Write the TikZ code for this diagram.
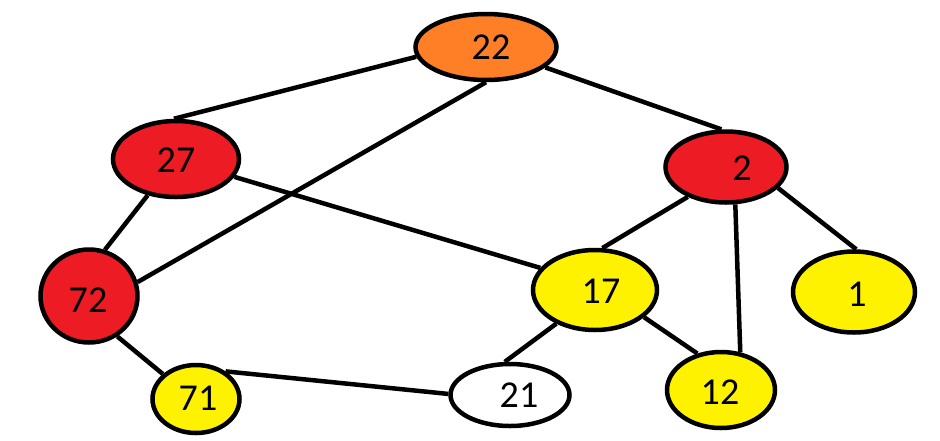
\documentclass[tikz,border=0pt]{standalone}
\usepackage{fontspec}
\setmainfont{Carlito}
\usetikzlibrary{shapes.geometric}
\definecolor{porange}{HTML}{FF7F27}
\definecolor{pred}{HTML}{ED1C24}
\definecolor{pyellow}{HTML}{FFF200}
\tikzset{
  vert/.style={ellipse, draw=black, line width=4.5pt, inner sep=0pt},
  lbl/.style={font=\fontsize{38}{38}\selectfont, inner sep=0pt},
  edge/.style={line width=4.5pt, draw=black}
}
\begin{document}
\begin{tikzpicture}[x=1pt,y=-1pt]
\useasboundingbox (0,0) rectangle (940,440);
\node[vert, fill=porange, minimum width=141pt, minimum height=66pt] (n22) at (486,47) {};
\node[vert, fill=pred, minimum width=126pt, minimum height=76pt] (n27) at (176,159) {};
\node[vert, fill=pred, minimum width=121pt, minimum height=71pt] (n2) at (726,167) {};
\node[vert, fill=pred, minimum width=97pt, minimum height=93pt] (n72) at (89,296) {};
\node[vert, fill=pyellow, minimum width=124pt, minimum height=80pt] (n17) at (595,290) {};
\node[vert, fill=pyellow, minimum width=122pt, minimum height=81pt] (n1) at (854,292) {};
\node[vert, fill=pyellow, minimum width=87pt, minimum height=68pt] (n71) at (196,399) {};
\node[vert, fill=white, minimum width=119pt, minimum height=62pt] (n21) at (510,395) {};
\node[vert, fill=pyellow, minimum width=108pt, minimum height=76pt] (n12) at (721,390) {};

\node[lbl] (t22) at (491,47) {22};
\node[lbl] (t27) at (176,160) {27};
\node[lbl] (t2) at (742,168) {2};
\node[lbl] (t72) at (88,300) {72};
\node[lbl] (t17) at (601,291) {17};
\node[lbl] (t1) at (857,294) {1};
\node[lbl] (t71) at (198,398) {71};
\node[lbl] (t21) at (519,395) {21};
\node[lbl] (t12) at (720,392) {12};

\draw[edge] (n22.188) -- (n27.93);
\draw[edge] (n22.341) -- (n2.97);
\draw[edge] (n22.270) -- (n72.16);
\draw[edge] (n27.232) -- (n72.71);
\draw[edge] (n27.343) -- (n17.158);
\draw[edge] (n2.218) -- (n17.80);
\draw[edge] (n2.284) -- (n12.63);
\draw[edge] (n2.338) -- (n1.87);
\draw[edge] (n17.221) -- (n21.99);
\draw[edge] (n17.331) -- (n12.123);
\draw[edge] (n72.305) -- (n71.143);
\draw[edge] (n71.43) -- (n21.179);
\end{tikzpicture}
\end{document}
